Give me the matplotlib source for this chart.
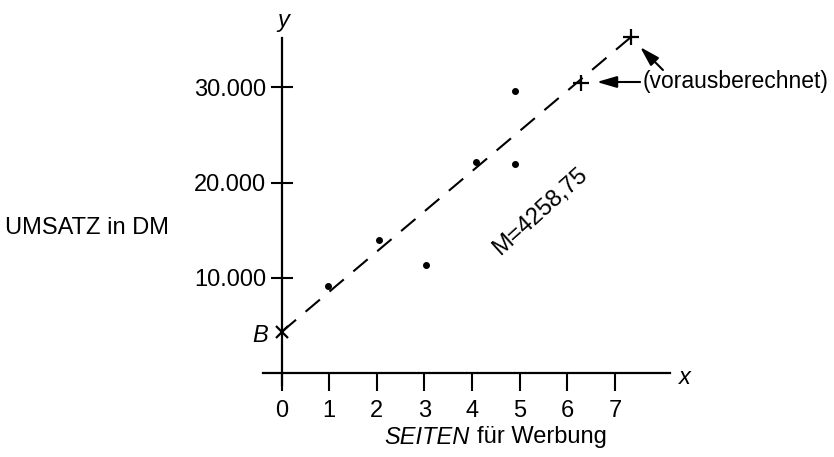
import numpy as np
import matplotlib
matplotlib.use('Agg')
import matplotlib.pyplot as plt

plt.rcParams['font.family'] = ['Liberation Sans', 'DejaVu Sans']

# Werbeseiten und Umsatz (DM)
seiten = [0.97, 2.05, 3.03, 4.08, 4.9, 4.9]
umsatz = [9200, 14000, 11400, 22200, 22000, 29600]

# Achsenabschnitt B und vorausberechnete Punkte
b_x, b_y = 0, 4350
prog_x = [6.29, 7.33]
prog_y = [30450, 35250]

x_ticks = [0, 1, 2, 3, 4, 5, 6, 7]
y_ticks = [10000, 20000, 30000]
y_labels = ['10.000', '20.000', '30.000']

W, H = 834, 457
FS = 17
fig = plt.figure(figsize=(W / 100, H / 100), dpi=100)


def fx(px):
    return px / W


def fy(py):
    return 1 - py / H


ax = fig.add_axes([fx(263), fy(385), (670 - 263) / W, (385 - 38) / H])
ax.set_xlim(-0.393, 8.158)
ax.set_ylim(-1228, 35184)

for s in ['top', 'right']:
    ax.spines[s].set_visible(False)
ax.spines['left'].set_position(('data', 0))
ax.spines['bottom'].set_position(('data', 0))
ax.spines['left'].set_linewidth(1.6)
ax.spines['bottom'].set_linewidth(1.6)

ax.set_xticks(x_ticks)
ax.set_xticklabels([str(t) for t in x_ticks])
ax.set_yticks(y_ticks)
ax.set_yticklabels(y_labels)
ax.tick_params(axis='x', direction='out', length=13, width=1.5, pad=6, labelsize=FS)
ax.tick_params(axis='y', direction='inout', length=16, width=1.5, pad=3, labelsize=FS)
ax.patch.set_visible(False)

# Regressionsgerade
ax.plot([b_x, prog_x[1]], [b_y, prog_y[1]], color='black', lw=1.5,
        dashes=(9, 6), zorder=2)

ax.plot(seiten, umsatz, 'o', color='black', ms=4, zorder=3)
ax.plot([b_x], [b_y], 'x', color='black', ms=8, mew=1.6, clip_on=False, zorder=3)
ax.plot(prog_x, prog_y, '+', color='black', ms=12, mew=1.6, clip_on=False, zorder=3)

ax.text(5.43, 16925, 'M=4258,75', fontsize=FS, rotation=42,
        ha='center', va='center', rotation_mode='anchor')

arrow = dict(arrowstyle='-|>,head_length=1.2,head_width=0.35',
             color='black', lw=1.5, shrinkA=0, shrinkB=0)
ax.annotate('', xy=(6.62, 30567), xytext=(7.53, 30567),
            arrowprops=arrow, annotation_clip=False)
ax.annotate('', xy=(7.53, 34239), xytext=(8.01, 31826),
            arrowprops=arrow, annotation_clip=False)
ax.text(7.59, 30567, '(vorausberechnet)', fontsize=FS - 0.5, ha='left', va='center')

fig.text(fx(283), fy(20), 'y', fontsize=FS, style='italic', ha='center', va='center')
fig.text(fx(685), fy(377), 'x', fontsize=FS, style='italic', ha='center', va='center')
fig.text(fx(268), fy(335), 'B', fontsize=FS, style='italic', ha='right', va='center')
fig.text(fx(5), fy(228), 'UMSATZ in DM', fontsize=FS, ha='left', va='center')
fig.text(fx(470), fy(437), 'SEITEN', fontsize=FS, style='italic', ha='right', va='center')
fig.text(fx(477), fy(437), 'für Werbung', fontsize=FS, ha='left', va='center')

fig.savefig('out.png', dpi=100)
